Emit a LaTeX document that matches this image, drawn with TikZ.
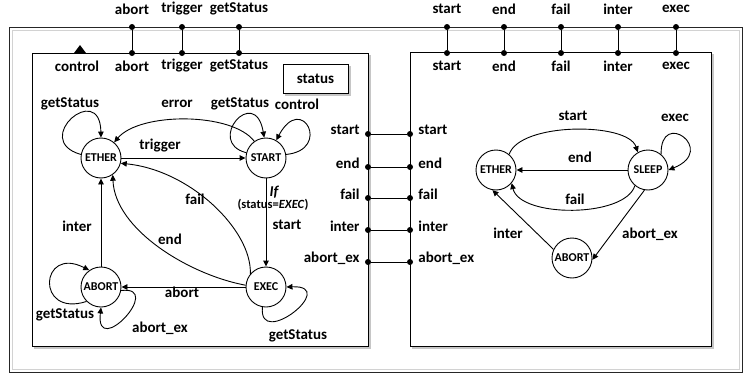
\documentclass[tikz,border=0pt]{standalone}
\usepackage{fontspec}
\setmainfont{Carlito}
\usetikzlibrary{arrows.meta}
\begin{document}
\begin{tikzpicture}[x=1pt,y=1pt,
  line width=0.9pt,
  every node/.style={font=\fontsize{15}{16}\selectfont\bfseries, inner sep=0pt},
  st/.style={circle, draw, minimum size=40pt, inner sep=0pt,
             font=\fontsize{12}{13}\selectfont\bfseries},
  dot/.style={circle, fill, inner sep=0pt, minimum size=6pt},
  small/.style={font=\fontsize{12.5}{13}\selectfont\bfseries},
  arr/.style={-{Triangle[length=6pt,width=5.5pt]}},
  shadow/.style={gray!45, line width=1.2pt}]
\useasboundingbox (0,0) rectangle (748,-375);

% outer frame (double border)
\draw[gray!35, line width=0.8pt] (12,-30) rectangle (739,-369);
\draw[black!85, line width=1pt] (9,-27) rectangle (742,-372);

% left sub-component box
\draw[shadow] (34,-348) -- (370,-348) -- (370,-55);
\draw (32,-53) rectangle (368,-346);
% right sub-component box
\draw[shadow] (412,-348) -- (713,-348) -- (713,-54);
\draw (410,-52) rectangle (711,-346);

% status box and control marker
\draw[shadow] (285,-95) -- (350,-95) -- (350,-66);
\draw (283,-64) rectangle (348,-93);
\node (status) at (315.5,-79) {status};
\fill (74,-53) -- (86,-53) -- (80,-45) -- cycle;
\node (ctl) at (77,-66) {control};

% ports on the top edge, left component
\foreach \x/\n in {132/abort,182/trigger,239/getStatus} {
  \node[dot] (o\n) at (\x,-27) {};
  \node[dot] (i\n) at (\x,-53) {};
  \draw (o\n) -- (i\n);
  \node at (\x,-9) {\n};
  \node at (\x,-66) {\n};
}
% ports on the top edge, right component
\foreach \x/\n in {447/start,504/end,561/fail,618/inter,676/exec} {
  \node[dot] (p\n) at (\x,-27) {};
  \node[dot] (q\n) at (\x,-53) {};
  \draw (p\n) -- (q\n);
  \node at (\x,-9) {\n};
  \node at (\x,-66) {\n};
}
% links between the two components
\foreach \y/\t [count=\k] in {134/start,167/end,198/fail,230/inter,262/abort\_ex} {
  \node[dot] (ml\k) at (368,-\y) {};
  \node[dot] (mr\k) at (410,-\y) {};
  \draw (ml\k) -- (mr\k);
  \node[anchor=east] at (360,-\y+4) {\t};
  \node[anchor=west] at (418,-\y+4) {\t};
}

% ---------- left state machine ----------
\node[st] (E1) at (101,-158) {ETHER};
\node[st] (S1) at (266,-158) {START};
\node[st] (A1) at (101,-287) {ABORT};
\node[st] (X1) at (266,-287) {EXEC};

\draw[arr] (E1) -- (S1);
\node (lt) at (160,-146) {trigger};
\draw[arr] (S1.125) .. controls (232,-112) and (140,-112) .. (E1.50);
\node (ler) at (177,-104) {error};
\draw[arr] (E1.170) .. controls (30,-140) and (100,-80) .. (E1.90);
\node (lg1) at (70,-104) {getStatus};
\draw[arr] (S1.165) .. controls (205,-142) and (255,-84) .. (S1.95);
\node (lg2) at (240,-104) {getStatus};
\draw[arr] (S1.10) .. controls (332,-150) and (302,-92) .. (S1.60);
\node (lc) at (297,-104) {control};

\draw[arr] (S1) -- (X1);
\node (lif) at (274,-192) {\itshape If};
\node[small] (lcond) at (273,-205) {(status=\textit{EXEC})};
\node (ls) at (287,-225) {start};

\draw[arr] (X1.140) .. controls (252,-230) and (190,-170) .. (E1.-15);
\node (lf) at (195,-199) {fail};
\draw[arr] (X1.175) .. controls (190,-275) and (115,-230) .. (E1.-55);
\node (le) at (170,-239) {end};

\draw[arr] (A1) -- (E1);
\node (li) at (77,-226) {inter};
\draw[arr] (X1) -- (A1);
\node (la) at (182,-292) {abort};

\draw[arr] (A1.225) .. controls (35,-318) and (40,-245) .. (A1.125);
\node (lg3) at (65,-315) {getStatus};
\draw[arr] (A1.-10) .. controls (165,-285) and (95,-360) .. (A1.-90);
\node (lax) at (160,-328) {abort\_ex};
\draw[arr] (X1.-100) .. controls (258,-350) and (340,-285) .. (X1.0);
\node (lg4) at (298,-336) {getStatus};

% ---------- right state machine ----------
\node[st] (E2) at (496,-170) {ETHER};
\node[st] (P2) at (648,-170) {SLEEP};
\node[st] (A2) at (572,-258) {ABORT};

\draw[arr] (E2.50) .. controls (520,-122) and (628,-122) .. (P2.120);
\node (rs) at (573,-116) {start};
\draw[arr] (P2) -- (E2);
\node (re) at (580,-157) {end};
\draw[arr] (P2.230) .. controls (625,-218) and (520,-218) .. (E2.-40);
\node (rf) at (575,-199) {fail};
\draw[arr] (P2.50) .. controls (660,-108) and (718,-150) .. (P2.0);
\node (rx) at (675,-118) {exec};
\draw[arr] (A2.155) -- (E2.-100);
\node (ri) at (508,-233) {inter};
\draw[arr] (P2.-100) -- (A2.-5);
\node (rax) at (650,-234) {abort\_ex};
\end{tikzpicture}
\end{document}
